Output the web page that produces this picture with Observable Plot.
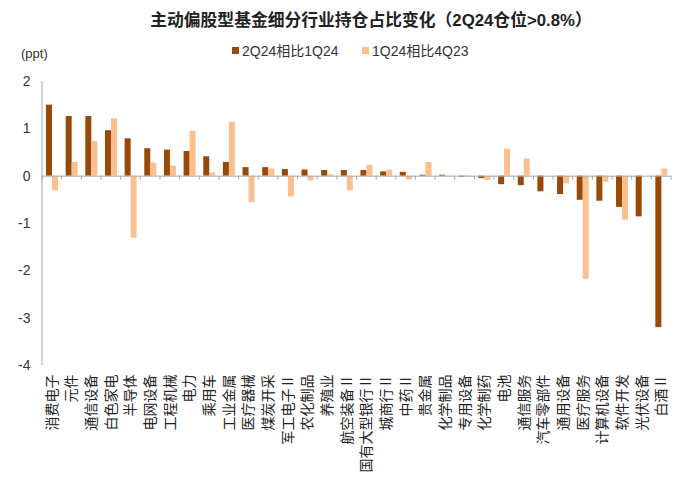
<!DOCTYPE html>
<html><head><meta charset="utf-8">
<script src="https://cdn.jsdelivr.net/npm/d3@7"></script>
<script src="https://cdn.jsdelivr.net/npm/@observablehq/plot@0.6"></script>
<style>
body{margin:0;background:#fff;font-family:"Liberation Sans","Noto Sans CJK SC",sans-serif;color:#222;}
#head{position:relative;width:700px;height:62px;}
#title{position:absolute;left:0;width:742px;text-align:center;top:7px;font-weight:bold;font-size:16.8px;color:#222;white-space:nowrap;}
#unit{position:absolute;left:21px;top:46px;font-size:13px;color:#333;}
.lg{position:absolute;top:40px;font-size:14px;color:#333;white-space:nowrap;display:flex;align-items:center;}
.sw{display:inline-block;width:7px;height:7px;margin-right:3px;}
</style></head>
<body>
<div id="head">
  <div id="title">主动偏股型基金细分行业持仓占比变化（2Q24仓位&gt;0.8%）</div>
  <div id="unit">(ppt)</div>
  <div class="lg" style="left:232px"><span class="sw" id="sw0"></span><span id="lt0"></span></div>
  <div class="lg" style="left:362px"><span class="sw" id="sw1"></span><span id="lt1"></span></div>
</div>
<div id="chart"></div>
<script>
const categories = ["消费电子","元件","通信设备","白色家电","半导体","电网设备","工程机械","电力","乘用车","工业金属","医疗器械","煤炭开采","军工电子Ⅱ","农化制品","养殖业","航空装备Ⅱ","国有大型银行Ⅱ","城商行Ⅱ","中药Ⅱ","贵金属","化学制品","专用设备","化学制药","电池","通信服务","汽车零部件","通用设备","医疗服务","计算机设备","软件开发","光伏设备","白酒Ⅱ"];
const seriesNames = ["2Q24相比1Q24","1Q24相比4Q23"];
const change2Q24 = [1.50,1.26,1.26,0.96,0.79,0.58,0.55,0.52,0.41,0.29,0.18,0.18,0.14,0.13,0.12,0.12,0.12,0.09,0.08,0.02,0.02,-0.02,-0.05,-0.18,-0.20,-0.33,-0.39,-0.51,-0.53,-0.66,-0.86,-3.20];
const change1Q24 = [-0.31,0.29,0.73,1.21,-1.31,0.28,0.21,0.95,0.07,1.14,-0.56,0.15,-0.44,-0.10,0.03,-0.31,0.23,0.13,-0.08,0.29,-0.01,0.01,-0.09,0.57,0.36,0,-0.16,-2.18,-0.13,-0.93,0,0.15];
const yTicks = [-4,-3,-2,-1,0,1,2];
const colors = ["#984807","#FAC090"];

document.getElementById("sw0").style.background = colors[0];
document.getElementById("sw1").style.background = colors[1];
document.getElementById("lt0").textContent = seriesNames[0];
document.getElementById("lt1").textContent = seriesNames[1];

const rows = [];
categories.forEach((c,i)=>{
  rows.push({cat:c, series:seriesNames[0], value:change2Q24[i]});
  rows.push({cat:c, series:seriesNames[1], value:change1Q24[i]});
});

const axisDecor = (index, scales, values, dims) => {
  const {x, y} = scales;
  const g = d3.create("svg:g");
  const y0 = y(0);
  g.append("line").attr("x1", dims.marginLeft).attr("x2", dims.marginLeft)
    .attr("y1", y(2)).attr("y2", y(-4)).attr("stroke", "#A6A6A6");
  const bw = x.bandwidth();
  const edges = categories.map(c => x(c)).concat([x(categories[categories.length-1]) + bw]);
  g.selectAll("line.t").data(edges).join("line")
    .attr("x1", d=>d).attr("x2", d=>d).attr("y1", y0).attr("y2", y0+4)
    .attr("stroke", "#A6A6A6");
  return g.node();
};

const plot = Plot.plot({
  width: 700,
  height: 421,
  marginTop: 19,
  marginBottom: 118,
  marginLeft: 42,
  marginRight: 29,
  style: {fontFamily: '"Liberation Sans","Noto Sans CJK SC",sans-serif', fontSize: "13px", color: "#222", background: "#fff"},
  x: {domain: categories, paddingInner: 0, paddingOuter: 0, align: 0.5, round: false, label: null},
  y: {domain: [-4, 2], label: null},
  marks: [
    Plot.axisY({ticks: yTicks, tickSize: 0, tickPadding: 12, tickFormat: d => String(d), fontSize: 14, fill: "#333", label: null}),
    Plot.axisX({tickSize: 0, tickPadding: 9, tickRotate: -90, fontSize: 14, fontFamily: '"Noto Sans CJK SC",sans-serif', fill: "#222", label: null}),
    Plot.barY(rows.filter(d=>d.series===seriesNames[0]), {x: "cat", y: "value", fill: colors[0], insetLeft: 4, insetRight: 9.65}),
    Plot.barY(rows.filter(d=>d.series===seriesNames[1]), {x: "cat", y: "value", fill: colors[1], insetLeft: 10, insetRight: 3.65}),
    Plot.ruleY([0], {stroke: "#A6A6A6"}),
    axisDecor
  ]
});
document.getElementById("chart").appendChild(plot);
</script>
</body></html>
